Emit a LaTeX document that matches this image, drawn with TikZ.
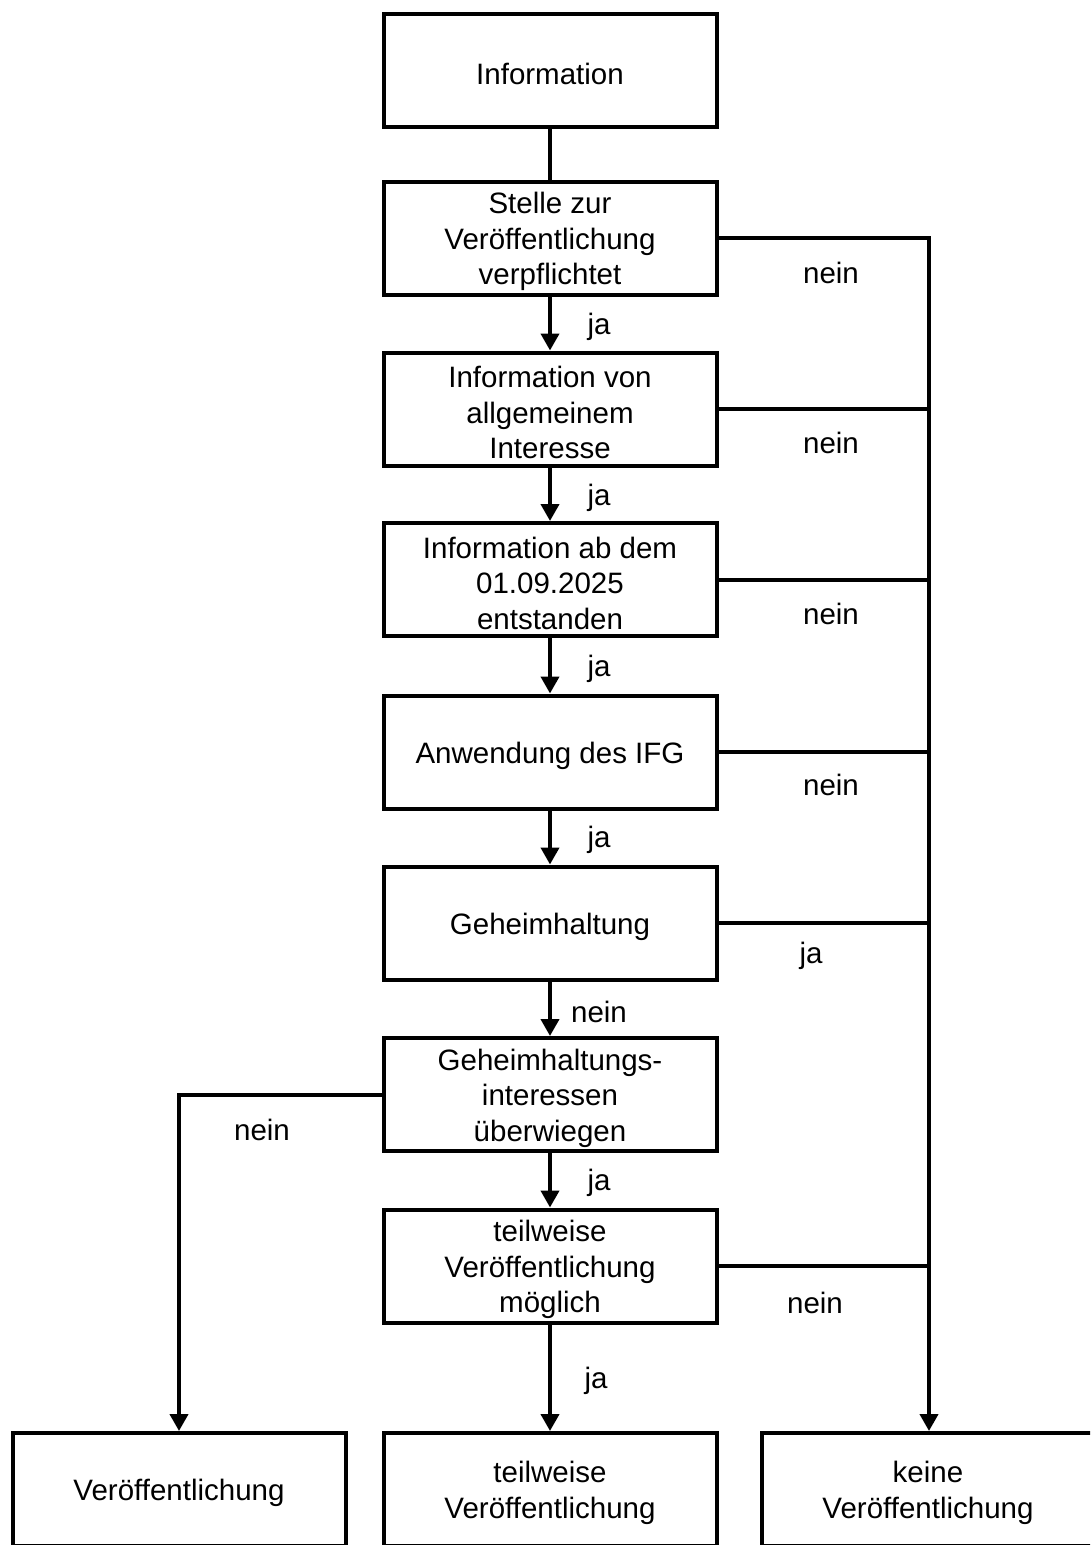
\documentclass[tikz,border=0pt]{standalone}
\usepackage{fontspec}
\setmainfont{Liberation Sans}
\usetikzlibrary{arrows.meta}
\begin{document}
\begin{tikzpicture}[x=1pt,y=-1pt,
  box/.style={draw,line width=4pt,minimum width=333pt,minimum height=113pt,inner sep=0pt},
  txt/.style={align=center,inner sep=0pt,font=\fontsize{29.5}{35.5}\selectfont},
  lbl/.style={font=\fontsize{29.5}{35.5}\selectfont,inner sep=0pt},
  conn/.style={line width=4pt,line join=miter},
  arr/.style={line width=4pt,line join=miter,-{Triangle[width=18pt,length=17pt]}}]
\clip (0,0) rectangle (1090,1545);
\newcommand\flowbox[3]{\node[box] (#1) at (#2) {}; \node[txt] (#1-t) at ([yshift=-3.5pt]#1.center) {#3};}
\flowbox{info}{550,70.5}{Information}
\flowbox{stelle}{550,238}{Stelle zur\\Veröffentlichung\\verpflichtet}
\flowbox{allg}{550,409}{Information von\\allgemeinem\\Interesse}
\flowbox{datum}{550,579.5}{Information ab dem\\01.09.2025\\entstanden}
\flowbox{ifg}{550,752}{Anwendung des IFG}
\flowbox{geh}{550,923}{Geheimhaltung}
\flowbox{gint}{550,1094.5}{Geheimhaltungs-\\interessen\\überwiegen}
\flowbox{teil}{550,1266}{teilweise\\Veröffentlichung\\möglich}
\flowbox{veroe}{179,1489.5}{Veröffentlichung}
\flowbox{tveroe}{550,1489.5}{teilweise\\Veröffentlichung}
\flowbox{keine}{928,1489.5}{keine\\Veröffentlichung}
\coordinate (r1) at (929,238);
\draw[conn] (info) -- (stelle);
\draw[arr] (stelle) -- (allg);
\draw[arr] (allg) -- (datum);
\draw[arr] (datum) -- (ifg);
\draw[arr] (ifg) -- (geh);
\draw[arr] (geh) -- (gint);
\draw[arr] (gint) -- (teil);
\draw[arr] (teil) -- (tveroe);
\draw[arr] (stelle.east) -- (r1) -- (keine.north -| r1);
\foreach \n in {allg,datum,ifg,geh,teil}{
  \draw[conn] (\n.east) -- (\n.east -| r1);
}
\draw[arr] (gint.west) -| (veroe.north);
\node[lbl] (j1) at (599,327) {ja};
\node[lbl] (j2) at (599,498) {ja};
\node[lbl] (j3) at (599,669) {ja};
\node[lbl] (j4) at (599,840) {ja};
\node[lbl] (n5) at (599,1012) {nein};
\node[lbl] (j6) at (599,1183) {ja};
\node[lbl] (j7) at (596,1381) {ja};
\node[lbl] (rn1) at (831,273) {nein};
\node[lbl] (rn2) at (831,443) {nein};
\node[lbl] (rn3) at (831,614) {nein};
\node[lbl] (rn4) at (831,785) {nein};
\node[lbl] (rj5) at (811,956) {ja};
\node[lbl] (rn6) at (815,1303) {nein};
\node[lbl] (ln) at (262,1130) {nein};
\end{tikzpicture}
\end{document}
